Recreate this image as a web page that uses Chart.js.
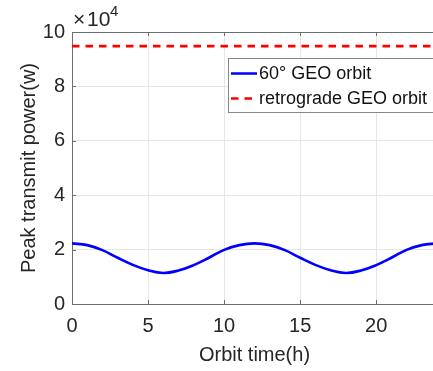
<!DOCTYPE html>
<html>
<head>
<meta charset="utf-8">
<script src="https://cdn.jsdelivr.net/npm/chart.js@4/dist/chart.umd.min.js"></script>
<style>
  html, body { margin: 0; padding: 0; background: #fff; overflow: hidden; }
  .wrap { width: 440px; height: 371px; }
</style>
</head>
<body>
<div class="wrap"><canvas id="myChart" width="440" height="371"></canvas></div>
<script>
const hours = [0, 1, 2, 3, 4, 5, 6, 7, 8, 9, 10, 11, 12, 13, 14, 15, 16, 17, 18, 19, 20, 21, 22, 23, 24];
const power60 = [22300, 21650, 19800, 17000, 14400, 12400, 11400, 12300, 14300, 17000, 19900, 21650, 22300,
                 21650, 19800, 17000, 14400, 12400, 11400, 12300, 14300, 17000, 19900, 21650, 22300];
const powerRetro = [94800, 94800, 94800, 94800, 94800, 94800, 94800, 94800, 94800, 94800, 94800, 94800, 94800,
                    94800, 94800, 94800, 94800, 94800, 94800, 94800, 94800, 94800, 94800, 94800, 94800];
const labels = ["60° GEO orbit", "retrograde GEO orbit"];
const xTicks = [0, 5, 10, 15, 20];
const yTicks = [0, 20000, 40000, 60000, 80000, 100000];

const FONT = "'Liberation Sans', Arial, sans-serif";
const axisColor = "#6e6e6e";

// box, inward ticks, exponent label and legend, matlab style
const matlabBits = {
  id: "matlabBits",
  afterDraw(chart) {
    const { ctx, chartArea: a, scales: { x, y } } = chart;
    ctx.save();
    ctx.strokeStyle = axisColor;
    ctx.lineWidth = 1;
    ctx.beginPath();
    ctx.moveTo(a.left, a.top + 0.5);
    ctx.lineTo(a.right, a.top + 0.5);
    ctx.moveTo(a.right - 0.5, a.top);
    ctx.lineTo(a.right - 0.5, a.bottom);
    xTicks.forEach(v => {
      const px = Math.round(x.getPixelForValue(v)) + 0.5;
      ctx.moveTo(px, a.bottom); ctx.lineTo(px, a.bottom - 4);
      ctx.moveTo(px, a.top); ctx.lineTo(px, a.top + 4);
    });
    yTicks.forEach(v => {
      const py = Math.round(y.getPixelForValue(v)) + 0.5;
      ctx.moveTo(a.left, py); ctx.lineTo(a.left + 4, py);
    });
    ctx.stroke();

    // x10^4
    ctx.fillStyle = "#262626";
    ctx.textBaseline = "alphabetic";
    ctx.textAlign = "left";
    ctx.font = `21px ${FONT}`;
    ctx.fillText("×", a.left + 1, 26);
    ctx.fillText("10", a.left + 15, 26);
    ctx.font = `15px ${FONT}`;
    ctx.fillText("4", a.left + 38, 16);

    // legend
    const lx = 228, ly = 58, lw = 210, lh = 54;
    ctx.fillStyle = "#fff";
    ctx.fillRect(lx, ly, lw, lh);
    ctx.strokeStyle = "#888";
    ctx.strokeRect(lx + 0.5, ly + 0.5, lw, lh);
    const rows = [
      { y: ly + 15.5, color: "#0000ff", dash: [] },
      { y: ly + 40.5, color: "#ff0000", dash: [7.5, 6] }
    ];
    ctx.font = `18px ${FONT}`;
    ctx.textBaseline = "middle";
    rows.forEach((r, i) => {
      ctx.strokeStyle = r.color;
      ctx.lineWidth = 2.5;
      ctx.setLineDash(r.dash);
      ctx.beginPath();
      ctx.moveTo(lx + 3, r.y);
      ctx.lineTo(lx + 29, r.y);
      ctx.stroke();
      ctx.setLineDash([]);
      ctx.fillStyle = "#111";
      ctx.fillText(labels[i], lx + 31, r.y + 1);
    });
    ctx.restore();
  }
};

new Chart(document.getElementById("myChart"), {
  type: "line",
  data: {
    labels: hours,
    datasets: [
      {
        label: labels[0],
        data: hours.map((h, i) => ({ x: h, y: power60[i] })),
        borderColor: "#0000ff",
        borderWidth: 2.6,
        pointRadius: 0,
        tension: 0.4,
        fill: false
      },
      {
        label: labels[1],
        data: hours.map((h, i) => ({ x: h, y: powerRetro[i] })),
        borderColor: "#ff0000",
        borderWidth: 2.6,
        borderDash: [7.5, 6],
        pointRadius: 0,
        fill: false
      }
    ]
  },
  options: {
    responsive: false,
    animation: false,
    layout: { padding: { top: 32, right: 3, left: 0, bottom: 0 } },
    plugins: { legend: { display: false }, tooltip: { enabled: false } },
    scales: {
      x: {
        type: "linear",
        min: 0,
        max: 24,
        afterBuildTicks(s) { s.ticks = xTicks.map(v => ({ value: v })); },
        afterFit(s) { s.height = 67; },
        grid: { color: "#e6e6e6", drawTicks: false },
        border: { color: axisColor, width: 1 },
        ticks: { color: "#262626", font: { family: FONT, size: 20 }, padding: 10, maxRotation: 0 },
        title: { display: true, text: "Orbit time(h)", color: "#262626", font: { family: FONT, size: 20 }, padding: { top: 2, bottom: 4 } }
      },
      y: {
        min: 0,
        max: 100000,
        afterBuildTicks(s) { s.ticks = yTicks.map(v => ({ value: v })); },
        afterFit(s) { s.width = 72; },
        grid: { color: "#e6e6e6", drawTicks: false },
        border: { color: axisColor, width: 1 },
        ticks: { color: "#262626", font: { family: FONT, size: 20 }, padding: 7, callback: v => v / 10000 },
        title: { display: true, text: "Peak transmit power(w)", color: "#262626", font: { family: FONT, size: 20 }, padding: { top: 17, bottom: 0 } }
      }
    }
  },
  plugins: [matlabBits]
});
</script>
</body>
</html>
